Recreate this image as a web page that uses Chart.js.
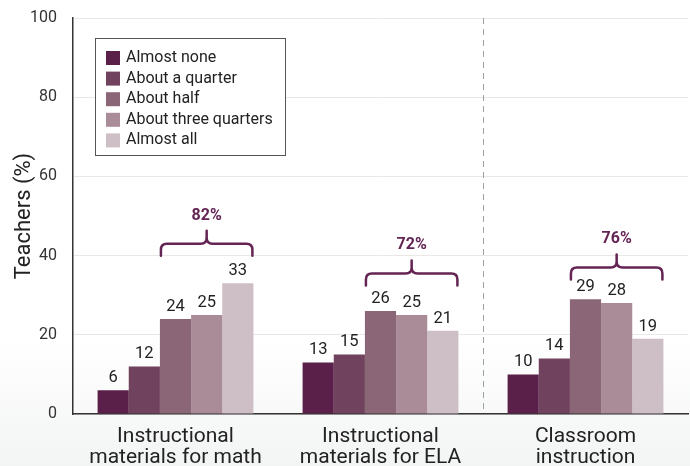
<!DOCTYPE html>
<html>
<head>
<meta charset="utf-8">
<script src="https://cdn.jsdelivr.net/npm/chart.js@4"></script>
<style>
  html, body { margin: 0; padding: 0; }
  body {
    width: 690px; height: 466px;
    background: linear-gradient(to bottom, #ffffff 0px, #ffffff 340px, #f3f4f4 466px);
  }
  #wrap { position: relative; width: 690px; height: 466px; }
</style>
</head>
<body>
<div id="wrap"><canvas id="chart" width="690" height="466"></canvas></div>
<script>
// Data
const categories = [['Instructional', 'materials for math'], ['Instructional', 'materials for ELA'], ['Classroom', 'instruction']];
const seriesNames = ['Almost none', 'About a quarter', 'About half', 'About three quarters', 'Almost all'];
const almostNone = [6, 13, 10];
const aboutQuarter = [12, 15, 14];
const aboutHalf = [24, 26, 29];
const aboutThreeQuarters = [25, 25, 28];
const almostAll = [33, 21, 19];
const groupTotals = ['82%', '72%', '76%'];
const braceLevels = [43, 35.5, 37];
const yTicks = [0, 20, 40, 60, 80, 100];

const colors = ['#5b2049', '#70425d', '#8b6677', '#aa8b98', '#cebec5'];
const seriesValues = [almostNone, aboutQuarter, aboutHalf, aboutThreeQuarters, almostAll];

const FONT = 'Roboto, "DejaVu Sans", sans-serif';
const BRACE_COLOR = '#642454';

// Value labels above each bar
const valueLabels = {
    id: 'valueLabels',
    afterDatasetsDraw(chart) {
        const ctx = chart.ctx;
        ctx.save();
        ctx.font = '16.5px ' + FONT;
        ctx.fillStyle = '#222';
        ctx.textAlign = 'center';
        ctx.textBaseline = 'bottom';
        chart.data.datasets.forEach((ds, i) => {
            chart.getDatasetMeta(i).data.forEach((bar, j) => {
                ctx.fillText(ds.data[j], bar.x, bar.y - 4);
            });
        });
        ctx.restore();
    }
};

// Braces over the last three bars of each group
const braces = {
    id: 'braces',
    afterDatasetsDraw(chart) {
        const ctx = chart.ctx;
        const y = chart.scales.y;
        const first = chart.getDatasetMeta(2).data;
        const last = chart.getDatasetMeta(4).data;
        ctx.save();
        ctx.strokeStyle = BRACE_COLOR;
        ctx.lineWidth = 2.5;
        ctx.lineCap = 'round';
        ctx.lineJoin = 'round';
        categories.forEach((c, j) => {
            const x0 = first[j].x - first[j].width / 2 + 1;
            const x1 = last[j].x + last[j].width / 2 - 1;
            const xm = (x0 + x1) / 2;
            const yl = y.getPixelForValue(braceLevels[j]);
            const r = 6;
            ctx.beginPath();
            ctx.moveTo(x0, yl + 12);
            ctx.lineTo(x0, yl + r);
            ctx.quadraticCurveTo(x0, yl, x0 + r, yl);
            ctx.lineTo(xm - r, yl);
            ctx.quadraticCurveTo(xm, yl, xm, yl - r);
            ctx.lineTo(xm, yl - 13);
            ctx.moveTo(xm, yl - r);
            ctx.quadraticCurveTo(xm, yl, xm + r, yl);
            ctx.lineTo(x1 - r, yl);
            ctx.quadraticCurveTo(x1, yl, x1, yl + r);
            ctx.lineTo(x1, yl + 12);
            ctx.stroke();
            ctx.font = 'bold 16px ' + FONT;
            ctx.fillStyle = BRACE_COLOR;
            ctx.textAlign = 'center';
            ctx.textBaseline = 'middle';
            ctx.fillText(groupTotals[j], xm, yl - 28);
        });
        ctx.restore();
    }
};

// Dashed divider between the material groups and classroom instruction
const divider = {
    id: 'divider',
    beforeDatasetsDraw(chart) {
        const ctx = chart.ctx;
        const x = chart.scales.x;
        const a = chart.chartArea;
        const px = (x.getPixelForValue(1) + x.getPixelForValue(2)) / 2;
        ctx.save();
        ctx.strokeStyle = '#9aa3a8';
        ctx.lineWidth = 1;
        ctx.setLineDash([6, 5]);
        ctx.beginPath();
        ctx.moveTo(px + 0.5, a.top);
        ctx.lineTo(px + 0.5, a.bottom);
        ctx.stroke();
        ctx.restore();
    }
};

// Boxed legend inside the plot area
const boxLegend = {
    id: 'boxLegend',
    afterDraw(chart) {
        const ctx = chart.ctx;
        const bx = 95, by = 38, bw = 190, bh = 117;
        ctx.save();
        ctx.fillStyle = '#fff';
        ctx.fillRect(bx, by, bw, bh);
        ctx.strokeStyle = '#555';
        ctx.lineWidth = 1;
        ctx.strokeRect(bx + 0.5, by + 0.5, bw, bh);
        ctx.font = '16px ' + FONT;
        ctx.textBaseline = 'middle';
        ctx.textAlign = 'left';
        chart.data.datasets.forEach((ds, i) => {
            const cy = by + 20 + i * 20.6;
            ctx.fillStyle = ds.backgroundColor;
            ctx.fillRect(bx + 11, cy - 7, 14, 14);
            ctx.fillStyle = '#222';
            ctx.fillText(ds.label, bx + 31, cy);
        });
        ctx.restore();
    }
};

const ctx = document.getElementById('chart').getContext('2d');
new Chart(ctx, {
    type: 'bar',
    data: {
        labels: categories,
        datasets: seriesNames.map((name, i) => ({
            label: name,
            data: seriesValues[i],
            backgroundColor: colors[i],
            borderWidth: 0,
            barPercentage: 1,
            categoryPercentage: 0.76
        }))
    },
    options: {
        responsive: false,
        animation: false,
        layout: { padding: { top: 18, right: 2, left: 0, bottom: 0 } },
        plugins: {
            legend: { display: false },
            tooltip: { enabled: false }
        },
        scales: {
            x: {
                grid: { display: false },
                border: { display: true, color: '#333', width: 1.5 },
                ticks: {
                    color: '#222',
                    font: { family: FONT, size: 21, lineHeight: 0.97 },
                    padding: 5,
                    maxRotation: 0,
                    autoSkip: false
                },
                afterFit(scale) { scale.height = 52; }
            },
            y: {
                min: 0,
                max: 100,
                afterBuildTicks(scale) { scale.ticks = yTicks.map(v => ({ value: v })); },
                grid: { color: '#e8e8e8', drawTicks: false },
                border: { display: true, color: '#333', width: 1.5 },
                ticks: {
                    color: '#333',
                    font: { family: FONT, size: 16 },
                    padding: 16
                },
                title: {
                    display: true,
                    text: 'Teachers (%)',
                    color: '#222',
                    font: { family: FONT, size: 22 },
                    padding: { top: 11, bottom: 0 }
                },
                afterFit(scale) {
                    scale.width = 73;
                    scale.paddingTop = 0;
                    scale.paddingBottom = 0;
                }
            }
        }
    },
    plugins: [divider, valueLabels, braces, boxLegend]
});
</script>
</body>
</html>
